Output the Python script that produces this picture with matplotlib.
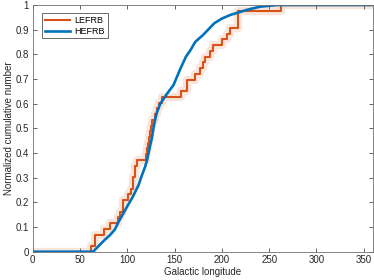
import numpy as np
import matplotlib
matplotlib.use('Agg')
from matplotlib import pyplot as plt

plt.rcParams['font.family'] = ['Liberation Sans', 'DejaVu Sans']

# LEFRB galactic longitudes (43 events, read from the staircase)
lefrb_lon = [62, 66, 66, 76, 82, 90, 92, 96, 96, 101, 104, 106, 106, 108, 108, 110,
             120, 121, 122, 123, 124, 125, 126, 129, 131, 134, 137, 157, 163, 163,
             172, 177, 180, 182, 187, 191, 200, 205, 209, 217, 217, 217, 263]

# HEFRB cumulative curve
hefrb_lon = [0, 64, 69, 76, 82, 87, 91, 96, 101, 106, 112, 115, 119, 121, 124, 126,
             128, 131, 135, 142, 149, 156, 162, 167, 172, 180, 192, 200, 209, 216,
             226, 240, 250, 260, 360]
hefrb_cdf = [0, 0, 0.02, 0.047, 0.068, 0.09, 0.122, 0.156, 0.19, 0.223, 0.27, 0.304,
             0.345, 0.372, 0.426, 0.46, 0.507, 0.561, 0.6, 0.64, 0.676, 0.74, 0.79,
             0.818, 0.851, 0.878, 0.926, 0.945, 0.96, 0.968, 0.98, 0.993, 0.997, 1.0, 1.0]

xticks = [0, 50, 100, 150, 200, 250, 300, 350]
yticks = [0, 0.1, 0.2, 0.3, 0.4, 0.5, 0.6, 0.7, 0.8, 0.9, 1]
ytick_labels = ['0', '0.1', '0.2', '0.3', '0.4', '0.5', '0.6', '0.7', '0.8', '0.9', '1']

red = '#D95319'
blue = '#0072BD'
axcol = '#262626'

n = len(lefrb_lon)
xs = np.concatenate([[0], np.sort(lefrb_lon), [360]])
ys = np.concatenate([[0], np.arange(1, n + 1) / n, [1]])

fig = plt.figure(figsize=(3.74, 2.8), dpi=100)
ax = fig.add_axes([0.087, 0.101, 0.911, 0.881])

# light band around the LEFRB staircase
ax.step(xs, ys, where='post', color=red, linewidth=6, alpha=0.15)
ax.step(xs, ys, where='post', color=red, linewidth=1.5, label='LEFRB')
ax.plot(hefrb_lon, hefrb_cdf, color=blue, linewidth=1.9, label='HEFRB')

ax.set_xlim(0, 360)
ax.set_ylim(0, 1)
ax.set_xticks(xticks)
ax.set_yticks(yticks)
ax.set_yticklabels(ytick_labels)
ax.tick_params(direction='in', top=True, right=True, labelsize=7, colors=axcol,
               length=3, width=0.5, pad=2.5)
for s in ax.spines.values():
    s.set_color('#707070')
    s.set_linewidth(0.6)
ax.set_xlabel('Galactic longitude', fontsize=7, color=axcol, labelpad=1)
ax.set_ylabel('Normalized cumulative number', fontsize=7, color=axcol, labelpad=1)

leg = ax.legend(loc='upper left', fontsize=6.5, frameon=True, fancybox=False,
                borderpad=0.3, handlelength=2.8, handletextpad=0.5,
                labelspacing=0.2, bbox_to_anchor=(0.015, 0.985))
leg.get_frame().set_edgecolor('#262626')
leg.get_frame().set_linewidth(0.6)

fig.savefig('out.png', dpi=100)
